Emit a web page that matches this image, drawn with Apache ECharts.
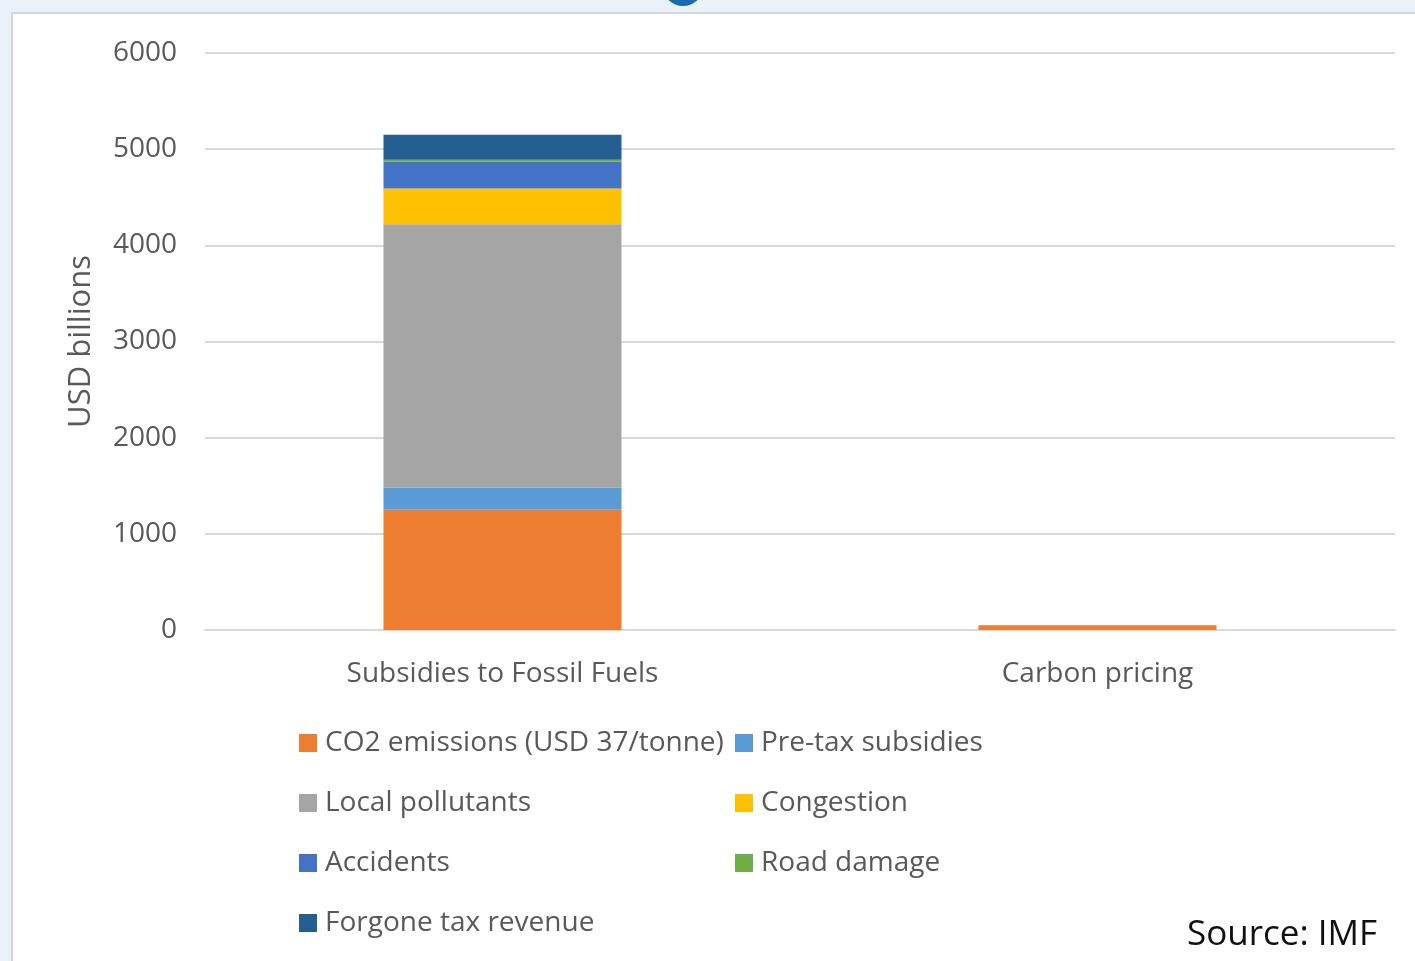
<!DOCTYPE html>
<html>
<head>
<meta charset="utf-8">
<script src="https://cdn.jsdelivr.net/npm/echarts@6/dist/echarts.min.js"></script>
<style>
  html, body { margin: 0; padding: 0; background: #e9f1f9; }
  #chart { width: 1415px; height: 961px; }
</style>
</head>
<body>
<div id="chart"></div>
<script>
// Categories and stacked components (USD billions)
const categories = ['Subsidies to Fossil Fuels', 'Carbon pricing'];
const co2Emissions = [1250, 50];
const preTaxSubsidies = [230, 0];
const localPollutants = [2740, 0];
const congestion = [370, 0];
const accidents = [280, 0];
const roadDamage = [20, 0];
const forgoneTaxRevenue = [260, 0];
const yTicks = { min: 0, max: 6000, interval: 1000 };

const seriesDefs = [
  { name: 'CO2 emissions (USD 37/tonne)', data: co2Emissions, color: '#ED7D31' },
  { name: 'Pre-tax subsidies', data: preTaxSubsidies, color: '#5B9BD5' },
  { name: 'Local pollutants', data: localPollutants, color: '#A5A5A5' },
  { name: 'Congestion', data: congestion, color: '#FFC000' },
  { name: 'Accidents', data: accidents, color: '#4472C4' },
  { name: 'Road damage', data: roadDamage, color: '#70AD47' },
  { name: 'Forgone tax revenue', data: forgoneTaxRevenue, color: '#255E91' }
];

const font = '"Open Sans", "Liberation Sans", sans-serif';
const legendText = { fontFamily: font, fontSize: 28, color: '#595959', lineHeight: 20,
  padding: [0, 0, 0, 3] };
const legendBase = {
  orient: 'vertical', top: 729, height: 260, padding: 0,
  itemWidth: 18, itemHeight: 18, itemGap: 32,
  icon: 'rect', textStyle: legendText
};

const chart = echarts.init(document.getElementById('chart'), null, { renderer: 'canvas' });
chart.setOption({
  backgroundColor: '#e9f1f9',
  animation: false,
  graphic: [
    { type: 'circle', shape: { cx: 683, cy: -14, r: 20 }, style: { fill: '#1b6bb0' }, z: 0 },
    { type: 'rect', shape: { x: 12, y: 13, width: 1420, height: 960 },
      style: { fill: '#ffffff', stroke: '#d6d6d6', lineWidth: 2 }, z: -1 },
    { type: 'text', left: 1187, top: 918,
      style: { text: 'Source: IMF', fill: '#111111', font: '35px "Open Sans", sans-serif' } }
  ],
  grid: { left: 205, right: 20, top: 53, bottom: 331 },
  legend: [
    Object.assign({}, legendBase, { left: 299,
      data: [seriesDefs[0].name, seriesDefs[2].name, seriesDefs[4].name, seriesDefs[6].name] }),
    Object.assign({}, legendBase, { left: 735,
      data: [seriesDefs[1].name, seriesDefs[3].name, seriesDefs[5].name] })
  ],
  xAxis: {
    type: 'category',
    data: categories,
    axisLine: { show: true, lineStyle: { color: '#d9d9d9', width: 2 } },
    axisTick: { show: false },
    axisLabel: { fontFamily: font, fontSize: 28, color: '#595959', margin: 30 }
  },
  yAxis: {
    type: 'value',
    min: yTicks.min, max: yTicks.max, interval: yTicks.interval,
    name: 'USD billions',
    nameLocation: 'middle',
    nameGap: 108,
    nameTextStyle: { fontFamily: font, fontSize: 31, color: '#595959' },
    axisLine: { show: false },
    axisTick: { show: false },
    axisLabel: { fontFamily: font, fontSize: 28, color: '#595959', margin: 28,
      formatter: v => String(v) },
    splitLine: { lineStyle: { color: '#d9d9d9', width: 2 } }
  },
  series: seriesDefs.map(s => ({
    name: s.name,
    type: 'bar',
    stack: 'total',
    data: s.data,
    barWidth: '40%',
    itemStyle: { color: s.color }
  }))
});
</script>
</body>
</html>
